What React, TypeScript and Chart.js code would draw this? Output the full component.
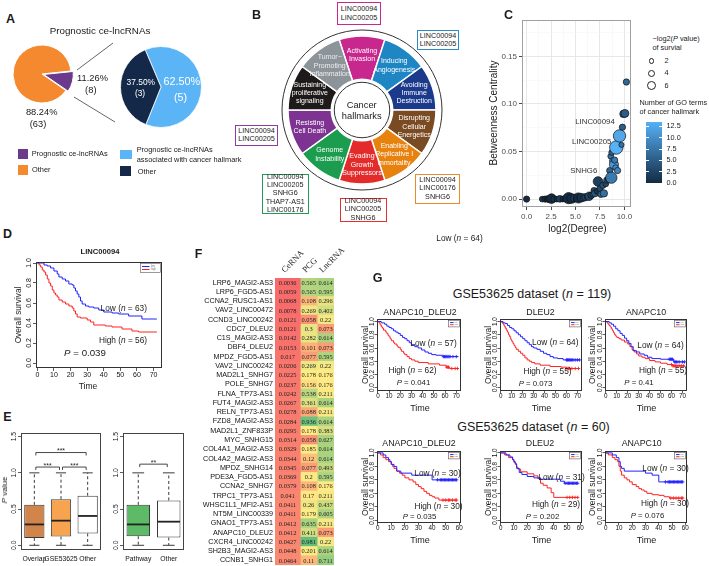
import React, { useEffect, useRef } from 'react';
import { Chart, registerables } from 'chart.js';

Chart.register(...registerables);

const FONT = '"Liberation Sans", Arial, Helvetica, sans-serif';
const SERIF = '"Liberation Serif", "Times New Roman", serif';
Chart.defaults.font.family = FONT;

/* ================= DATA ================= */
// Panel A
const pieAllLabels = ['Other', 'Prognostic ce-lncRNAs'];
const pieAllCounts = [63, 8];
const pieProgLabels = ['Prognostic ce-lncRNAs associated with cancer hallmark', 'Other'];
const pieProgCounts = [5, 3];

// Panel B
const hallmarkLines = [
  ['Activating', 'Invasion'],
  ['Inducing', 'Angiogenesis'],
  ['Avoiding', 'Immune', 'Destruction'],
  ['Disrupting', 'Cellular', 'Energetics'],
  ['Enabling', 'Replicative I', 'mmortality'],
  ['Evading', 'Growth', 'Suppressors'],
  ['Genome', 'Instability'],
  ['Resisting', 'Cell Death'],
  ['Sustaining', 'proliferative', 'signaling'],
  ['Tumor\u2212', 'Promoting', 'Inflammation'],
];
const hallmarkWeights = [1, 1, 1, 1, 1, 1, 1, 1, 1, 1];
const genesInvasion = ['LINC00094', 'LINC00205'];
const genesAngiogenesis = ['LINC00094', 'LINC00205'];
const genesCellDeath = ['LINC00094', 'LINC00205'];
const genesGenome = ['LINC00094', 'LINC00205', 'SNHG6', 'THAP7-AS1', 'LINC00176'];
const genesGrowth = ['LINC00094', 'LINC00205', 'SNHG6'];
const genesImmortality = ['LINC00094', 'LINC00176', 'SNHG6'];

// Panel C
const ccDegree = [0.0, 1.6, 1.9, 2.1, 2.3, 2.55, 2.8, 3.1, 3.4, 3.7, 4.0, 4.3, 4.6, 4.9, 5.1, 5.3, 5.6, 5.8, 6.0, 6.2, 6.4, 6.6, 6.8, 6.9, 7.0, 7.2, 7.3, 7.5, 7.6, 7.8, 7.9, 8.1, 8.2, 8.4, 8.5, 8.66, 8.6, 8.7, 8.8, 8.93, 9.0, 9.1, 9.17, 9.3, 9.5, 9.7, 9.8, 9.9, 10.05, 10.2];
const ccBetweenness = [0.0, 0.0, 0.0, 0.0003, 0.0, 0.0005, 0.0, 0.0, 0.0003, 0.0, 0.0004, 0.001, 0.0006, 0.001, 0.0005, 0.0012, 0.0015, 0.001, 0.002, 0.0025, 0.003, 0.004, 0.005, 0.009, 0.006, 0.008, 0.0185, 0.011, 0.005, 0.0145, 0.006, 0.016, 0.02, 0.021, 0.03, 0.0225, 0.045, 0.049, 0.04, 0.0363, 0.041, 0.033, 0.0542, 0.03, 0.0664, 0.057, 0.0755, 0.0895, 0.09, 0.123];
const ccGoTerms = [0, 1, 0, 1, 0, 0, 1, 0, 2, 0, 1, 0, 0, 2, 1, 0, 1, 3, 2, 1, 3, 2, 4, 3, 5, 1, 2, 3, 6, 4, 7, 3, 4, 5, 6, 8, 7, 5, 9, 11, 8, 10, 13.5, 9, 12.5, 7, 5, 6, 5, 6];
const ccNegLog2P = [3, 2.5, 3, 2.5, 4, 6, 3, 2.5, 3.5, 2.5, 3.5, 7.5, 6, 4.5, 3, 6.5, 5, 3, 4, 2.5, 5, 3, 2.5, 3, 3.5, 2.5, 6, 3, 3, 3, 4, 2.5, 3, 3.5, 3, 7.6, 2.5, 2.5, 3, 5.5, 3, 2.5, 9.5, 3, 8.5, 2, 3, 4, 4.5, 3];
const ccTicksX = [0, 2.5, 5, 7.5, 10];
const ccTicksY = [0, 0.05, 0.1, 0.15];
const ccSizeLegend = [2, 4, 6];
const ccGoLegend = [0, 2.5, 5, 7.5, 10, 12.5];
const ccGoMax = 13.5;

// Panel D (LINC00094)
const kmD_lowTime = [4, 6, 8, 10, 12, 13, 15, 17, 19, 21, 22, 23, 24, 25, 26, 27, 29, 31, 34, 37, 40, 45, 49, 55, 63];
const kmD_lowSurv = [0.98, 0.97, 0.95, 0.92, 0.89, 0.86, 0.84, 0.82, 0.79, 0.78, 0.75, 0.72, 0.69, 0.66, 0.62, 0.59, 0.57, 0.56, 0.55, 0.53, 0.51, 0.5, 0.49, 0.47, 0.44];
const kmD_highTime = [1, 2, 3, 4, 5, 6, 7, 8, 9, 10, 11, 12, 13, 15, 17, 19, 21, 22, 23, 24, 26, 30, 32, 34, 41, 45, 51, 57, 61];
const kmD_highSurv = [0.98, 0.96, 0.93, 0.91, 0.88, 0.84, 0.8, 0.77, 0.73, 0.7, 0.68, 0.66, 0.63, 0.61, 0.59, 0.57, 0.55, 0.52, 0.49, 0.46, 0.45, 0.43, 0.41, 0.38, 0.37, 0.36, 0.34, 0.32, 0.31];

// Panel E
const eLeftGroups = ['Overlap', 'GSE53625', 'Other'];
const eLeftMin = [0, 0, 0];
const eLeftQ1 = [0.102, 0.121, 0.163];
const eLeftMedian = [0.288, 0.34, 0.405];
const eLeftQ3 = [0.558, 0.637, 0.684];
const eLeftMax = [1, 1, 1];
const eLeftSig = [[0, 2, 1.28, '***'], [0, 1, 1.08, '***'], [1, 2, 1.08, '***']];
const eRightGroups = ['Pathway', 'Other'];
const eRightMin = [0, 0];
const eRightQ1 = [0.126, 0.107];
const eRightMedian = [0.288, 0.326];
const eRightQ3 = [0.558, 0.619];
const eRightMax = [1, 1];
const eRightSig = [[0, 1, 1.12, '**']];
const eTicksY = [0, 0.5, 1, 1.5];

// Panel F
const fColumns = ['CeRNA', 'PCG', 'LncRNA'];
const fPairs = ['LRP6_MAGI2-AS3', 'LRP6_FGD5-AS1', 'CCNA2_RUSC1-AS1', 'VAV2_LINC00472', 'CCND3_LINC00242', 'CDC7_DLEU2', 'C1S_MAGI2-AS3', 'DBF4_DLEU2', 'MPDZ_FGD5-AS1', 'VAV2_LINC00242', 'MAD2L1_SNHG7', 'POLE_SNHG7', 'FLNA_TP73-AS1', 'FUT4_MAGI2-AS3', 'RELN_TP73-AS1', 'FZD8_MAGI2-AS3', 'MAD2L1_ZNF833P', 'MYC_SNHG15', 'COL4A1_MAGI2-AS3', 'COL4A2_MAGI2-AS3', 'MPDZ_SNHG14', 'PDE3A_FGD5-AS1', 'CCNA2_SNHG7', 'TRPC1_TP73-AS1', 'WHSC1L1_MFI2-AS1', 'NT5M_LINC00339', 'GNAO1_TP73-AS1', 'ANAPC10_DLEU2', 'CXCR4_LINC00242', 'SH2B3_MAGI2-AS3', 'CCNB1_SNHG1'];
const fCeRNA = [0.0036, 0.0059, 0.0068, 0.0078, 0.0121, 0.0121, 0.0142, 0.0153, 0.017, 0.0206, 0.0225, 0.0237, 0.0242, 0.0267, 0.0278, 0.0284, 0.0295, 0.0314, 0.0329, 0.0344, 0.0345, 0.0369, 0.0379, 0.041, 0.0411, 0.0411, 0.0412, 0.0412, 0.0427, 0.0448, 0.0464];
const fPCG = [0.565, 0.565, 0.108, 0.269, 0.058, 0.3, 0.282, 0.101, 0.077, 0.269, 0.178, 0.156, 0.538, 0.361, 0.088, 0.936, 0.178, 0.058, 0.185, 0.12, 0.077, 0.2, 0.108, 0.17, 0.26, 0.179, 0.635, 0.411, 0.981, 0.201, 0.11];
const fLncRNA = [0.614, 0.595, 0.296, 0.402, 0.22, 0.073, 0.614, 0.073, 0.595, 0.22, 0.176, 0.176, 0.211, 0.614, 0.211, 0.614, 0.383, 0.627, 0.614, 0.614, 0.493, 0.595, 0.176, 0.211, 0.437, 0.605, 0.211, 0.073, 0.22, 0.614, 0.711];

// Panel G – GSE53625 (n = 119)
const g1a_lowTime = [3, 6, 8, 10, 12, 14, 16, 18, 20, 22, 24, 26, 28, 30, 33, 36, 39, 42, 45, 48, 52, 58];
const g1a_lowSurv = [0.98, 0.96, 0.93, 0.91, 0.89, 0.86, 0.84, 0.82, 0.79, 0.76, 0.74, 0.71, 0.68, 0.65, 0.62, 0.6, 0.57, 0.54, 0.52, 0.5, 0.49, 0.47];
const g1a_lowCens = [58.5, 59.5, 60.5, 61.5, 62.5, 63.5, 64.5, 67, 70];
const g1a_highTime = [1, 2, 3, 4, 5, 7, 8, 9, 10, 11, 12, 14, 15, 17, 18, 20, 21, 23, 24, 26, 28, 30, 33, 36, 45, 55, 61, 64];
const g1a_highSurv = [0.98, 0.95, 0.92, 0.9, 0.87, 0.84, 0.82, 0.79, 0.77, 0.74, 0.71, 0.68, 0.66, 0.63, 0.61, 0.58, 0.55, 0.52, 0.5, 0.47, 0.44, 0.42, 0.4, 0.38, 0.36, 0.34, 0.31, 0.29];
const g1a_highCens = [61.5, 62.5, 63, 66, 69, 71];

const g1b_lowTime = [2, 4, 6, 8, 10, 12, 14, 16, 18, 20, 22, 24, 26, 28, 30, 33, 36, 39, 42, 45, 48, 52, 57];
const g1b_lowSurv = [0.98, 0.97, 0.94, 0.91, 0.89, 0.86, 0.83, 0.8, 0.77, 0.74, 0.71, 0.68, 0.65, 0.62, 0.6, 0.58, 0.55, 0.52, 0.5, 0.47, 0.45, 0.44, 0.42];
const g1b_lowCens = [60, 61, 62, 63, 64, 65, 66, 68, 70, 72];
const g1b_highTime = [1, 2, 3, 4, 5, 6, 7, 8, 9, 10, 11, 12, 13, 14, 16, 18, 20, 22, 24, 26, 28, 31, 36, 45, 55, 60];
const g1b_highSurv = [0.98, 0.96, 0.93, 0.9, 0.87, 0.84, 0.8, 0.77, 0.73, 0.7, 0.67, 0.64, 0.61, 0.58, 0.55, 0.52, 0.49, 0.45, 0.42, 0.4, 0.38, 0.36, 0.34, 0.32, 0.31, 0.29];
const g1b_highCens = [60.5, 61.5, 62, 63, 65, 68, 71];

const g1c_lowTime = [3, 5, 7, 9, 11, 13, 15, 17, 19, 21, 23, 25, 28, 31, 35, 38, 42, 50, 62];
const g1c_lowSurv = [0.98, 0.96, 0.93, 0.89, 0.86, 0.82, 0.79, 0.75, 0.71, 0.67, 0.62, 0.56, 0.54, 0.51, 0.49, 0.46, 0.44, 0.43, 0.39];
const g1c_lowCens = [58, 59, 60, 61, 63, 64, 65, 67, 70, 72];
const g1c_highTime = [1, 2, 3, 4, 5, 6, 7, 8, 9, 10, 12, 14, 17, 20, 22, 24, 26, 28, 30, 33, 36, 40, 45, 50, 56, 61];
const g1c_highSurv = [0.98, 0.96, 0.94, 0.92, 0.89, 0.86, 0.83, 0.8, 0.78, 0.76, 0.74, 0.72, 0.69, 0.66, 0.62, 0.57, 0.54, 0.51, 0.48, 0.46, 0.44, 0.41, 0.39, 0.37, 0.35, 0.33];
const g1c_highCens = [60, 61.5, 62.5, 63.5, 65, 67, 69, 71];

// Panel G – GSE53625 (n = 60)
const g2a_lowTime = [4, 6, 8, 9, 10, 12, 14, 17, 25, 40];
const g2a_lowSurv = [0.97, 0.93, 0.9, 0.87, 0.83, 0.8, 0.73, 0.7, 0.67, 0.6];
const g2a_lowCens = [44, 46, 47, 48, 49, 50, 51, 52, 53, 54, 55, 56, 57, 58];
const g2a_highTime = [2, 4, 6, 8, 10, 11, 12, 14, 16, 18, 20, 23, 26, 28, 30, 32, 34, 36, 38, 40, 42, 45];
const g2a_highSurv = [0.97, 0.93, 0.9, 0.87, 0.83, 0.8, 0.77, 0.73, 0.7, 0.67, 0.63, 0.6, 0.57, 0.53, 0.5, 0.47, 0.43, 0.4, 0.37, 0.35, 0.33, 0.3];
const g2a_highCens = [48, 50, 52, 53, 55, 57, 58];

const g2b_lowTime = [4, 7, 9, 10, 11, 12, 14, 16, 20, 25, 30, 45, 48];
const g2b_lowSurv = [0.97, 0.94, 0.9, 0.87, 0.84, 0.77, 0.71, 0.68, 0.65, 0.63, 0.61, 0.58, 0.55];
const g2b_lowCens = [48.5, 50, 51, 52, 53, 54, 55, 56, 57, 58];
const g2b_highTime = [3, 6, 9, 10, 11, 12, 13, 15, 20, 25, 28, 30, 32, 35, 38, 40];
const g2b_highSurv = [0.97, 0.93, 0.9, 0.86, 0.83, 0.79, 0.76, 0.72, 0.69, 0.66, 0.62, 0.55, 0.52, 0.48, 0.41, 0.34];
const g2b_highCens = [50, 52, 54, 56, 58];

const g2c_lowTime = [5, 8, 10, 11, 12, 14, 30, 35, 40];
const g2c_lowSurv = [0.97, 0.93, 0.87, 0.8, 0.77, 0.73, 0.7, 0.67, 0.57];
const g2c_lowCens = [45, 47, 48, 49, 50, 51, 52, 53, 54, 55, 56, 57, 58];
const g2c_highTime = [2, 5, 7, 9, 10, 11, 12, 14, 16, 18, 20, 23, 25, 27, 29, 31, 35, 40, 44, 48];
const g2c_highSurv = [0.97, 0.93, 0.9, 0.87, 0.8, 0.73, 0.67, 0.63, 0.6, 0.57, 0.53, 0.5, 0.47, 0.45, 0.43, 0.4, 0.38, 0.37, 0.35, 0.33];
const g2c_highCens = [49, 51, 53, 55, 57, 58];

const survTicks = [0, 0.2, 0.4, 0.6, 0.8, 1.0];
const timeTicks72 = [0, 10, 20, 30, 40, 50, 60, 70];
const timeTicks60 = [0, 10, 20, 30, 40, 50, 60];

/* ================= HELPERS ================= */
const BLUE = '#2222ff';
const RED = '#ff2222';

const hexRgb = (h: string) => [parseInt(h.slice(1, 3), 16), parseInt(h.slice(3, 5), 16), parseInt(h.slice(5, 7), 16)];
const mix = (a: string, b: string, t: number) => {
  const A = hexRgb(a), B = hexRgb(b);
  const tt = Math.max(0, Math.min(1, t));
  return `rgb(${A.map((v, i) => Math.round(v + (B[i] - v) * tt)).join(',')})`;
};
const goColor = (v: number) => mix('#132B43', '#56B1F7', v / ccGoMax);
const sizeR = (p: number) => 1.5 + 0.55 * p;

function baseOpts(pad: any) {
  return {
    responsive: false,
    animation: false,
    events: [],
    layout: { padding: pad },
    plugins: { legend: { display: false }, tooltip: { enabled: false }, title: { display: false } },
  };
}

const framePlugin = (color: string, lw = 1) => ({
  id: 'frame',
  afterDraw(chart: any) {
    const { ctx, chartArea: a } = chart;
    ctx.save();
    ctx.strokeStyle = color;
    ctx.lineWidth = lw;
    ctx.strokeRect(Math.round(a.left) + 0.5, Math.round(a.top) + 0.5, Math.round(a.right - a.left) - 1, Math.round(a.bottom - a.top) - 1);
    ctx.restore();
  },
});

// R-style y tick labels (rotated, centred on the tick)
const rotYLabels = (vals: number[], off: number, fs: number) => ({
  id: 'rotY',
  afterDraw(chart: any) {
    const ys = chart.scales.y;
    const ctx = chart.ctx;
    const x = chart.chartArea.left - off;
    ctx.save();
    ctx.font = `${fs}px ${FONT}`;
    ctx.fillStyle = '#111';
    ctx.textAlign = 'center';
    ctx.textBaseline = 'middle';
    vals.forEach((v) => {
      ctx.save();
      ctx.translate(x, ys.getPixelForValue(v));
      ctx.rotate(-Math.PI / 2);
      ctx.fillText(v.toFixed(1), 0, 0);
      ctx.restore();
    });
    ctx.restore();
  },
});

function geom(f: number[], yw: number, xh: number, m: number) {
  return { x: f[0] - yw - m, y: f[1] - m, w: f[2] - f[0] + yw + 2 * m, h: f[3] - f[1] + xh + 2 * m, pad: m };
}

function ChartBox({ g, make }: any) {
  const ref = useRef<HTMLCanvasElement>(null);
  useEffect(() => {
    const chart = new Chart(ref.current as HTMLCanvasElement, make());
    return () => chart.destroy();
  }, []);
  return <canvas ref={ref} width={g.w} height={g.h} style={{ position: 'absolute', left: g.x, top: g.y, width: g.w, height: g.h }} />;
}

function Tx({ x, y, s = 8, a = 'c', c = '#1a1a1a', b = false, r = 0, f = FONT, children }: any) {
  const tx = a === 'c' ? '-50%' : a === 'r' ? '-100%' : '0';
  return (
    <div style={{ position: 'absolute', left: x, top: y, fontSize: s, fontFamily: f, color: c, fontWeight: b ? 700 : 400, whiteSpace: 'nowrap', lineHeight: 1, transform: `translate(${tx}, -50%)${r ? ` rotate(${r}deg)` : ''}` }}>
      {children}
    </div>
  );
}

function GeneBox({ x, y, w, h, color, lines }: any) {
  return (
    <div style={{ position: 'absolute', left: x, top: y, width: w, height: h, border: `1.5px solid ${color}`, boxSizing: 'border-box', display: 'flex', flexDirection: 'column', justifyContent: 'center', alignItems: 'center', fontSize: 7.2, lineHeight: '8.2px', fontFamily: FONT, color: '#222', background: '#fff' }}>
      {lines.map((l: string, i: number) => <div key={i}>{l}</div>)}
    </div>
  );
}

/* ================= PANEL A ================= */
const pieAllGeom = { x: 0, y: 40, w: 120, h: 90 };
function pieAllConfig() {
  return {
    type: 'pie',
    data: { labels: pieAllLabels, datasets: [{ data: pieAllCounts, backgroundColor: ['#F4892F', '#6B3A8C'], borderColor: '#fff', borderWidth: 1, offset: [0, 7] }] },
    options: { ...baseOpts({ left: 0, top: 0, right: 36, bottom: 22 }), rotation: 124.6, radius: 29 },
    plugins: [{
      id: 'connect',
      afterDraw(chart: any) {
        const ctx = chart.ctx;
        ctx.save();
        ctx.strokeStyle = '#555';
        ctx.lineWidth = 0.9;
        ctx.beginPath(); ctx.moveTo(77, 30); ctx.lineTo(113, 3); ctx.stroke();
        ctx.beginPath(); ctx.moveTo(74, 57); ctx.lineTo(115, 82); ctx.stroke();
        ctx.restore();
      },
    }],
  };
}
const pieProgGeom = { x: 110, y: 36, w: 102, h: 102 };
function pieProgConfig() {
  return {
    type: 'pie',
    data: { labels: pieProgLabels, datasets: [{ data: pieProgCounts, backgroundColor: ['#5BB4F6', '#14294A'], borderColor: '#fff', borderWidth: 0.8 }] },
    options: { ...baseOpts(0), rotation: -23, radius: 40.5 },
  };
}

/* ================= PANEL B ================= */
const hallmarkColors = ['#C8288E', '#1F86C4', '#1C3A8C', '#7A4A22', '#E8820F', '#E32B2B', '#1C9C4F', '#7E3393', '#1E1A1A', '#8C9499'];
const ringGeom = { x: 276, y: 25, w: 172, h: 170 };
function ringConfig() {
  return {
    type: 'doughnut',
    data: { labels: hallmarkLines.map((l) => l.join(' ')), datasets: [{ data: hallmarkWeights, backgroundColor: hallmarkColors, borderColor: '#fff', borderWidth: 1.5 }] },
    options: { ...baseOpts(0), rotation: -18, radius: 74, cutout: 35 },
    plugins: [{
      id: 'ring',
      afterDraw(chart: any) {
        const meta = chart.getDatasetMeta(0);
        const a0: any = meta.data[0];
        const cx = a0.x, cy = a0.y;
        const ctx = chart.ctx;
        ctx.save();
        ctx.strokeStyle = '#333';
        ctx.lineWidth = 1;
        ctx.beginPath(); ctx.arc(cx, cy, a0.outerRadius + 6, 0, Math.PI * 2); ctx.stroke();
        ctx.beginPath(); ctx.arc(cx, cy, a0.innerRadius - 3, 0, Math.PI * 2); ctx.stroke();
        ctx.font = `7px ${FONT}`;
        ctx.textAlign = 'center';
        ctx.textBaseline = 'middle';
        meta.data.forEach((arc: any, i: number) => {
          const mid = (arc.startAngle + arc.endAngle) / 2;
          const rr = (arc.innerRadius + arc.outerRadius) / 2 + 2.5;
          const tx = cx + rr * Math.cos(mid), ty = cy + rr * Math.sin(mid);
          const lines = hallmarkLines[i];
          ctx.fillStyle = i === 9 ? '#eeeeee' : '#ffffff';
          lines.forEach((ln, j) => ctx.fillText(ln, tx, ty + (j - (lines.length - 1) / 2) * 8.4));
        });
        ctx.restore();
      },
    }],
  };
}

/* ================= PANEL C ================= */
const cFrame = [522, 18, 633, 207];
const cGeom = geom(cFrame, 28, 18, 5);
function bubbleConfig() {
  const isMaj = (v: number, step: number) => Math.abs(v / step - Math.round(v / step)) < 1e-6;
  const minorX: number[] = [];
  for (let i = 0; i < ccTicksX.length; i++) { minorX.push(ccTicksX[i]); if (i < ccTicksX.length - 1) minorX.push((ccTicksX[i] + ccTicksX[i + 1]) / 2); }
  const minorY: number[] = [];
  for (let i = 0; i < ccTicksY.length; i++) { minorY.push(ccTicksY[i]); minorY.push(ccTicksY[i] + 0.025); }
  const gridColor = (step: number) => (ctx: any) => (ctx.tick && isMaj(ctx.tick.value, step) ? '#e4e4e4' : '#f2f2f2');
  const gridW = (step: number) => (ctx: any) => (ctx.tick && isMaj(ctx.tick.value, step) ? 0.9 : 0.5);
  const tickC = (step: number) => (ctx: any) => (ctx.tick && isMaj(ctx.tick.value, step) ? '#333' : 'rgba(0,0,0,0)');
  return {
    type: 'bubble',
    data: {
      datasets: [{
        data: ccDegree.map((x, i) => ({ x, y: ccBetweenness[i], r: sizeR(ccNegLog2P[i]) })),
        backgroundColor: ccGoTerms.map(goColor),
        borderColor: '#111',
        borderWidth: 0.7,
      }],
    },
    options: {
      ...baseOpts(cGeom.pad),
      scales: {
        x: {
          type: 'linear', min: -0.47, max: 10.63,
          afterBuildTicks: (s: any) => { s.ticks = minorX.map((v) => ({ value: v })); },
          ticks: { autoSkip: false, maxRotation: 0, font: { size: 8 }, color: '#4d4d4d', padding: 2, callback: (v: number) => (isMaj(v, 2.5) ? v.toFixed(1) : '') },
          grid: { color: gridColor(2.5), lineWidth: gridW(2.5), tickLength: 3, tickColor: tickC(2.5) },
          border: { display: false },
          afterFit: (s: any) => { s.height = 18; s.paddingLeft = 0; s.paddingRight = 0; },
        },
        y: {
          type: 'linear', min: -0.0083, max: 0.1877,
          afterBuildTicks: (s: any) => { s.ticks = minorY.map((v) => ({ value: v })); },
          ticks: { autoSkip: false, font: { size: 8 }, color: '#4d4d4d', padding: 2, callback: (v: number) => (isMaj(v, 0.05) ? v.toFixed(2) : '') },
          grid: { color: gridColor(0.05), lineWidth: gridW(0.05), tickLength: 3, tickColor: tickC(0.05) },
          border: { display: false },
          afterFit: (s: any) => { s.width = 28; s.paddingTop = 0; s.paddingBottom = 0; },
        },
      },
    },
    plugins: [framePlugin('#a0a0a0', 1)],
  };
}

/* ================= KM ================= */
function kmConfig(o: any) {
  const steps = (time: number[], surv: number[], end: number) => {
    const pts = [{ x: 0, y: 1 }];
    time.forEach((t, i) => pts.push({ x: t, y: surv[i] }));
    pts.push({ x: end, y: surv[surv.length - 1] });
    return pts;
  };
  const at = (time: number[], surv: number[], t: number) => { let s = 1; time.forEach((tt, i) => { if (tt <= t) s = surv[i]; }); return s; };
  const cens = (time: number[], surv: number[], cs: number[]) => cs.map((t) => ({ x: t, y: at(time, surv, t) }));
  const ds: any[] = [
    { data: steps(o.lowT, o.lowS, o.end), borderColor: BLUE, borderWidth: 1, stepped: 'before', pointRadius: 0, fill: false },
    { data: steps(o.highT, o.highS, o.end), borderColor: RED, borderWidth: 1, stepped: 'before', pointRadius: 0, fill: false },
  ];
  if (o.lowC) ds.push({ data: cens(o.lowT, o.lowS, o.lowC), showLine: false, pointStyle: 'cross', pointRadius: 1.7, pointBorderColor: BLUE, pointBorderWidth: 0.9, borderColor: BLUE });
  if (o.highC) ds.push({ data: cens(o.highT, o.highS, o.highC), showLine: false, pointStyle: 'cross', pointRadius: 1.7, pointBorderColor: RED, pointBorderWidth: 0.9, borderColor: RED });
  const font = { size: o.fs, family: FONT };
  return {
    type: 'line',
    data: { datasets: ds },
    options: {
      ...baseOpts(o.g.pad),
      scales: {
        x: {
          type: 'linear', min: o.xmin, max: o.xmax,
          afterBuildTicks: (s: any) => { s.ticks = o.xticks.map((v: number) => ({ value: v })); },
          ticks: { autoSkip: false, maxRotation: 0, minRotation: 0, font, color: '#111', padding: o.xpad, callback: (v: number) => String(v) },
          grid: { drawOnChartArea: false, tickLength: o.tl, color: '#333', lineWidth: 0.8 },
          border: { display: false },
          afterFit: (s: any) => { s.height = o.xh; s.paddingLeft = 0; s.paddingRight = 0; },
        },
        y: {
          type: 'linear', min: o.ymin, max: o.ymax,
          afterBuildTicks: (s: any) => { s.ticks = survTicks.map((v) => ({ value: v })); },
          ticks: { display: false },
          grid: { drawOnChartArea: false, tickLength: o.tl, color: '#333', lineWidth: 0.8 },
          border: { display: false },
          afterFit: (s: any) => { s.width = o.yw; s.paddingTop = 0; s.paddingBottom = 0; },
        },
      },
    },
    plugins: [
      framePlugin('#333', 1),
      rotYLabels(survTicks, o.yoff, o.fs),
      {
        id: 'kmleg',
        afterDraw(chart: any) {
          const a = chart.chartArea;
          const ctx = chart.ctx;
          const w = o.legW, h = o.legH;
          const x0 = a.right - w - 1.5, y0 = a.top + 1.5;
          ctx.save();
          ctx.fillStyle = '#fff';
          ctx.fillRect(x0, y0, w, h);
          ctx.strokeStyle = '#555';
          ctx.lineWidth = 0.6;
          ctx.strokeRect(x0, y0, w, h);
          [BLUE, RED].forEach((c, i) => {
            const yy = y0 + (h * (i + 1)) / 3;
            ctx.strokeStyle = c;
            ctx.lineWidth = 1;
            ctx.beginPath(); ctx.moveTo(x0 + 1.5, yy); ctx.lineTo(x0 + w * 0.45, yy); ctx.stroke();
            ctx.fillStyle = '#777';
            ctx.font = `${Math.max(2, h * 0.3)}px ${FONT}`;
            ctx.textBaseline = 'middle';
            ctx.fillText(i === 0 ? 'low' : 'high', x0 + w * 0.52, yy);
          });
          ctx.restore();
        },
      },
    ],
  };
}

const dGeom = geom([36, 262, 162, 368], 14, 14, 5);
const dOpts = { g: dGeom, lowT: kmD_lowTime, lowS: kmD_lowSurv, highT: kmD_highTime, highS: kmD_highSurv, end: 72, xmin: -0.8, xmax: 75.1, ymin: -0.05, ymax: 1.01, xticks: timeTicks72, fs: 7, tl: 3, xpad: 0, yoff: 6.5, yw: 14, xh: 14, legW: 20, legH: 9 };

const gCols = [[377, 462], [500, 583], [605, 688]];
const gRow1 = [318, 391];
const gRow2 = [450, 523];
const gCommon = { fs: 6.3, tl: 2.5, xpad: -0.8, yoff: 5, yw: 11, xh: 12, legW: 11, legH: 6.5 };
const gRow1Opts = { end: 72, xmin: -0.8, xmax: 74.3, ymin: -0.05, ymax: 1.04, xticks: timeTicks72 };
const gRow2Opts = { end: 58, xmin: -0.5, xmax: 61.3, ymin: -0.04, ymax: 1.03, xticks: timeTicks60 };
const gPlots = [
  { col: 0, row: 1, lowT: g1a_lowTime, lowS: g1a_lowSurv, lowC: g1a_lowCens, highT: g1a_highTime, highS: g1a_highSurv, highC: g1a_highCens },
  { col: 1, row: 1, lowT: g1b_lowTime, lowS: g1b_lowSurv, lowC: g1b_lowCens, highT: g1b_highTime, highS: g1b_highSurv, highC: g1b_highCens },
  { col: 2, row: 1, lowT: g1c_lowTime, lowS: g1c_lowSurv, lowC: g1c_lowCens, highT: g1c_highTime, highS: g1c_highSurv, highC: g1c_highCens },
  { col: 0, row: 2, lowT: g2a_lowTime, lowS: g2a_lowSurv, lowC: g2a_lowCens, highT: g2a_highTime, highS: g2a_highSurv, highC: g2a_highCens },
  { col: 1, row: 2, lowT: g2b_lowTime, lowS: g2b_lowSurv, lowC: g2b_lowCens, highT: g2b_highTime, highS: g2b_highSurv, highC: g2b_highCens },
  { col: 2, row: 2, lowT: g2c_lowTime, lowS: g2c_lowSurv, lowC: g2c_lowCens, highT: g2c_highTime, highS: g2c_highSurv, highC: g2c_highCens },
].map((p) => {
  const rowY = p.row === 1 ? gRow1 : gRow2;
  const g = geom([gCols[p.col][0], rowY[0], gCols[p.col][1], rowY[1]], 11, 12, 4);
  return { ...gCommon, ...(p.row === 1 ? gRow1Opts : gRow2Opts), ...p, g };
});

/* ================= PANEL E ================= */
function boxConfig(b: any) {
  const data = b.q1.map((q: number, i: number) => [q, b.q3[i]]);
  return {
    type: 'bar',
    data: { labels: b.groups, datasets: [{ data, backgroundColor: b.colors, borderColor: '#3a3a3a', borderWidth: 1, borderSkipped: false, barPercentage: b.barPct, categoryPercentage: 1 }] },
    options: {
      ...baseOpts(b.g.pad),
      scales: {
        x: {
          grid: { display: false, drawTicks: false }, border: { display: false },
          ticks: { autoSkip: false, maxRotation: 0, font: { size: 6.8 }, color: '#111', padding: 5 },
          afterFit: (s: any) => { s.height = 16; s.paddingLeft = 0; s.paddingRight = 0; },
        },
        y: {
          type: 'linear', min: -0.065, max: 1.55,
          afterBuildTicks: (s: any) => { s.ticks = eTicksY.map((v) => ({ value: v })); },
          ticks: { display: false },
          grid: { drawOnChartArea: false, tickLength: 3, color: '#333', lineWidth: 0.8 },
          border: { display: false },
          afterFit: (s: any) => { s.width = 13; s.paddingTop = 0; s.paddingBottom = 0; },
        },
      },
    },
    plugins: [
      framePlugin('#444', 1),
      rotYLabels(eTicksY, 7, 6.8),
      {
        id: 'boxparts',
        afterDatasetsDraw(chart: any) {
          const meta = chart.getDatasetMeta(0);
          const ys = chart.scales.y;
          const ctx = chart.ctx;
          const ln = (x1: number, y1: number, x2: number, y2: number) => { ctx.beginPath(); ctx.moveTo(x1, y1); ctx.lineTo(x2, y2); ctx.stroke(); };
          ctx.save();
          meta.data.forEach((el: any, i: number) => {
            const x = el.x, hw = el.width / 2;
            ctx.strokeStyle = '#3a3a3a';
            ctx.lineWidth = 1;
            ctx.setLineDash([3, 2.5]);
            ln(x, ys.getPixelForValue(b.q3[i]), x, ys.getPixelForValue(b.max[i]));
            ln(x, ys.getPixelForValue(b.q1[i]), x, ys.getPixelForValue(b.min[i]));
            ctx.setLineDash([]);
            ln(x - hw / 2, ys.getPixelForValue(b.max[i]), x + hw / 2, ys.getPixelForValue(b.max[i]));
            ln(x - hw / 2, ys.getPixelForValue(b.min[i]), x + hw / 2, ys.getPixelForValue(b.min[i]));
            ctx.lineWidth = 1.8;
            ctx.strokeStyle = '#222';
            ln(x - hw + 0.5, ys.getPixelForValue(b.median[i]), x + hw - 0.5, ys.getPixelForValue(b.median[i]));
          });
          ctx.strokeStyle = '#333';
          ctx.lineWidth = 0.9;
          ctx.fillStyle = '#222';
          ctx.font = `7px ${FONT}`;
          ctx.textAlign = 'center';
          ctx.textBaseline = 'alphabetic';
          b.sig.forEach((s: any) => {
            const xa = meta.data[s[0]].x + 1.5, xb = meta.data[s[1]].x - 1.5;
            const yy = ys.getPixelForValue(s[2]);
            const yd = ys.getPixelForValue(s[2] - 0.04);
            ctx.beginPath(); ctx.moveTo(xa, yd); ctx.lineTo(xa, yy); ctx.lineTo(xb, yy); ctx.lineTo(xb, yd); ctx.stroke();
            ctx.fillText(s[3], (xa + xb) / 2, yy + 0.5);
          });
          ctx.restore();
        },
      },
    ],
  };
}
const eLeftGeom = geom([21, 433, 101, 550], 13, 16, 5);
const eRightGeom = geom([123, 433, 184, 550], 13, 16, 5);
const eLeft = { g: eLeftGeom, groups: eLeftGroups, min: eLeftMin, q1: eLeftQ1, median: eLeftMedian, q3: eLeftQ3, max: eLeftMax, sig: eLeftSig, colors: ['#D2854A', '#F7A34F', '#FFFFFF'], barPct: 0.76 };
const eRight = { g: eRightGeom, groups: eRightGroups, min: eRightMin, q1: eRightQ1, median: eRightMedian, q3: eRightQ3, max: eRightMax, sig: eRightSig, colors: ['#5DBA66', '#FFFFFF'], barPct: 0.77 };

/* ================= PANEL F ================= */
const heatColumnWidths = [1.5, 1, 1];
const heatGeom = { x: 196, y: 240, w: 160, h: 326 };
function heatConfig() {
  const cols = [fCeRNA, fPCG, fLncRNA];
  const all = [...fCeRNA, ...fPCG, ...fLncRNA].sort((a, b) => a - b);
  const lo = all[0], hi = all[all.length - 1];
  const pos = (all.length - 1) * 0.5;
  const mid = all[Math.floor(pos)] + (all[Math.ceil(pos)] - all[Math.floor(pos)]) * (pos - Math.floor(pos));
  const color = (v: number) => (v <= mid ? mix('#F8696B', '#FFEB84', (v - lo) / (mid - lo)) : mix('#FFEB84', '#63BE7B', (v - mid) / (hi - mid)));
  return {
    type: 'bar',
    data: {
      labels: fPairs,
      datasets: cols.map((vals, ci) => ({ label: fColumns[ci], data: fPairs.map(() => heatColumnWidths[ci]), backgroundColor: vals.map(color), borderWidth: 0, barPercentage: 1, categoryPercentage: 1 })),
    },
    options: {
      ...baseOpts({ left: 4, top: 38, right: 22, bottom: 1 }),
      indexAxis: 'y',
      scales: {
        x: { stacked: true, display: false, min: 0, max: 3.5 },
        y: {
          stacked: true,
          grid: { display: false, drawTicks: false }, border: { display: false },
          ticks: { autoSkip: false, font: { size: 7.2 }, color: '#111', padding: 2 },
          afterFit: (s: any) => { s.width = 75; s.paddingTop = 0; s.paddingBottom = 0; },
        },
      },
    },
    plugins: [{
      id: 'heattext',
      afterDatasetsDraw(chart: any) {
        const ctx = chart.ctx;
        ctx.save();
        ctx.font = `6.4px ${SERIF}`;
        ctx.fillStyle = '#222';
        ctx.textAlign = 'center';
        ctx.textBaseline = 'middle';
        cols.forEach((vals, di) => {
          chart.getDatasetMeta(di).data.forEach((el: any, i: number) => {
            ctx.fillText(String(vals[i]), (el.x + el.base) / 2, el.y + 0.5);
          });
        });
        const xs = chart.scales.x;
        let acc = 0;
        ctx.font = `8.6px ${SERIF}`;
        ctx.textAlign = 'left';
        ctx.textBaseline = 'alphabetic';
        fColumns.forEach((name, ci) => {
          const c = acc + heatColumnWidths[ci] / 2;
          acc += heatColumnWidths[ci];
          const px = xs.getPixelForValue(c);
          ctx.save();
          ctx.translate(px - 3, chart.chartArea.top - 5);
          ctx.rotate(-Math.PI / 4);
          ctx.fillText(name, 0, 0);
          ctx.restore();
        });
        ctx.restore();
      },
    }],
  };
}

/* ================= APP ================= */
export default function App() {
  const lbl = (t: string, x: number, y: number) => <Tx x={x} y={y} s={12.5} b>{t}</Tx>;
  const n = <i>n</i>;
  const P = <i>P</i>;
  const gTitleX = [[420, 540.5, 646], [419, 540, 641.7]];
  const gTitles = ['ANAPC10_DLEU2', 'DLEU2', 'ANAPC10'];
  const gYLab = [365, 488, 592];
  const gTimeX = [420, 541.5, 646.5];
  return (
    <div style={{ position: 'fixed', left: 0, top: 0, width: 709, height: 566, background: '#fff', overflow: 'hidden', fontFamily: FONT }}>
      {/* charts */}
      <ChartBox g={pieAllGeom} make={pieAllConfig} />
      <ChartBox g={pieProgGeom} make={pieProgConfig} />
      <ChartBox g={ringGeom} make={ringConfig} />
      <ChartBox g={cGeom} make={bubbleConfig} />
      <ChartBox g={dGeom} make={() => kmConfig(dOpts)} />
      <ChartBox g={eLeftGeom} make={() => boxConfig(eLeft)} />
      <ChartBox g={eRightGeom} make={() => boxConfig(eRight)} />
      <ChartBox g={heatGeom} make={heatConfig} />
      {gPlots.map((p, i) => <ChartBox key={i} g={p.g} make={() => kmConfig(p)} />)}

      {/* panel letters */}
      {lbl('A', 10.5, 19)}
      {lbl('B', 256.5, 14.5)}
      {lbl('C', 508.5, 14.5)}
      {lbl('D', 7.5, 234)}
      {lbl('E', 7.5, 417)}
      {lbl('F', 198.5, 254)}
      {lbl('G', 377.5, 278)}

      {/* Panel A texts */}
      <Tx x={100} y={31} s={9.8}>Prognostic ce-lncRNAs</Tx>
      <Tx x={92.5} y={79.3} s={9.3}>11.26%</Tx>
      <Tx x={90.8} y={90.7} s={9.3}>(8)</Tx>
      <Tx x={41.7} y={113.3} s={9.3}>88.24%</Tx>
      <Tx x={38} y={125} s={9.3}>(63)</Tx>
      <Tx x={140.8} y={81.7} s={8.4} c="#fff">37.50%</Tx>
      <Tx x={140} y={93.3} s={8.4} c="#fff">(3)</Tx>
      <Tx x={181.7} y={81} s={10.8} c="#fff">62.50%</Tx>
      <Tx x={180.5} y={96.7} s={10.8} c="#fff">(5)</Tx>
      <div style={{ position: 'absolute', left: 18.3, top: 149.3, width: 10, height: 10, background: '#6B3A8C' }} />
      <div style={{ position: 'absolute', left: 18.3, top: 165, width: 10, height: 10, background: '#F4892F' }} />
      <div style={{ position: 'absolute', left: 120, top: 150, width: 11.7, height: 9.3, background: '#5BB4F6' }} />
      <div style={{ position: 'absolute', left: 120, top: 166, width: 11, height: 9.7, background: '#14294A' }} />
      <Tx x={31.7} y={154.3} s={7.4} a="l">Prognostic ce-lncRNAs</Tx>
      <Tx x={32} y={170} s={7.4} a="l">Other</Tx>
      <Tx x={136.7} y={150} s={7.4} a="l">Prognostic ce-lncRNAs</Tx>
      <Tx x={136.7} y={159.5} s={7.4} a="l">associated with cancer hallmark</Tx>
      <Tx x={137.7} y={171.7} s={7.4} a="l">Other</Tx>

      {/* Panel B */}
      <Tx x={361.7} y={106} s={9.3}>Cancer</Tx>
      <Tx x={361.7} y={117.3} s={9.3}>hallmarks</Tx>
      <GeneBox x={337} y={2} w={44} h={23} color="#C8288E" lines={genesInvasion} />
      <GeneBox x={417} y={29.5} w={42} h={20.5} color="#2A8AC8" lines={genesAngiogenesis} />
      <GeneBox x={235} y={125} w={43} h={20.5} color="#8A3D9E" lines={genesCellDeath} />
      <GeneBox x={262} y={173.5} w={46.5} h={40} color="#1E9C52" lines={genesGenome} />
      <GeneBox x={339.5} y={197.5} w={47} h={24} color="#E53030" lines={genesGrowth} />
      <GeneBox x={415} y={173.5} w={45} h={30} color="#EB8A2A" lines={genesImmortality} />

      {/* Panel C */}
      <Tx x={493.5} y={113} s={10} r={-90}>Betweenness Centrality</Tx>
      <Tx x={577.5} y={228.5} s={10}>log2(Degree)</Tx>
      <Tx x={595} y={121.7} s={7.8} c="#333">LINC00094</Tx>
      <Tx x={591.7} y={141.7} s={7.8} c="#333">LINC00205</Tx>
      <Tx x={583.8} y={171} s={7.8} c="#333">SNHG6</Tx>
      <Tx x={652.5} y={39.3} s={7.3} a="l">{'\u2212log2('}{P}{' value)'}</Tx>
      <Tx x={652.5} y={48} s={7.3} a="l">of survial</Tx>
      {ccSizeLegend.map((v, i) => {
        const r = sizeR(v);
        const cy = [61, 73.3, 85.7][i];
        return (
          <React.Fragment key={i}>
            <div style={{ position: 'absolute', left: 651.7 - r, top: cy - r, width: 2 * r, height: 2 * r, borderRadius: '50%', border: '1px solid #222', boxSizing: 'border-box', background: '#fff' }} />
            <Tx x={664.5} y={cy} s={7.3} a="l">{String(v)}</Tx>
          </React.Fragment>
        );
      })}
      <Tx x={639.5} y={103.3} s={7.3} a="l">Number of GO terms</Tx>
      <Tx x={639.5} y={112} s={7.3} a="l">of cancer hallmark</Tx>
      <div style={{ position: 'absolute', left: 646, top: 121.7, width: 16, height: 61.6, background: 'linear-gradient(to top, #132B43, #56B1F7)' }} />
      {ccGoLegend.map((v, i) => {
        const y = 183.3 - (v / ccGoMax) * 61.6;
        return (
          <React.Fragment key={i}>
            <div style={{ position: 'absolute', left: 646, top: y - 0.5, width: 3, height: 1, background: '#fff' }} />
            <div style={{ position: 'absolute', left: 659, top: y - 0.5, width: 3, height: 1, background: '#fff' }} />
            <Tx x={666.5} y={y} s={7.3} a="l">{v.toFixed(1)}</Tx>
          </React.Fragment>
        );
      })}

      {/* stray label */}
      <Tx x={459.5} y={238} s={8.3}>Low ({n} = 64)</Tx>

      {/* Panel D */}
      <Tx x={100} y={252} s={7.6} b>LINC00094</Tx>
      <Tx x={123.8} y={307.5} s={8.3}>Low ({n} = 63)</Tx>
      <Tx x={123} y={339.7} s={8.3}>High ({n} = 56)</Tx>
      <Tx x={85} y={352.7} s={9.7}>{P} = 0.039</Tx>
      <Tx x={18.3} y={315} s={8.3} r={-90}>Overall survival</Tx>
      <Tx x={88} y={386} s={8.5}>Time</Tx>

      {/* Panel E */}
      <Tx x={4.5} y={490} s={8} r={-90}>{P} value</Tx>

      {/* Panel G */}
      <Tx x={532} y={294} s={12.5}>GSE53625 dataset ({n} = 119)</Tx>
      <Tx x={533.5} y={426.5} s={12.5}>GSE53625 dataset ({n} = 60)</Tx>
      {[0, 1].map((row) => gTitles.map((t, c) => (
        <React.Fragment key={`${row}-${c}`}>
          <Tx x={gTitleX[row][c]} y={row === 0 ? 311.5 : 443.3} s={8.8}>{t}</Tx>
          <Tx x={gYLab[c]} y={row === 0 ? 354.5 : 486.5} s={8.5} r={-90}>Overall survival</Tx>
          <Tx x={gTimeX[c]} y={row === 0 ? 408 : 540} s={9}>Time</Tx>
        </React.Fragment>
      )))}
      <Tx x={433.5} y={343.3} s={8.3}>Low ({n} = 57)</Tx>
      <Tx x={412.5} y={370} s={8.3}>High ({n} = 62)</Tx>
      <Tx x={413.5} y={383.3} s={7.8}>{P} = 0.041</Tx>
      <Tx x={555.3} y={341.7} s={8.3}>Low ({n} = 64)</Tx>
      <Tx x={547.5} y={370.7} s={8.3}>High ({n} = 55)</Tx>
      <Tx x={535.5} y={384} s={7.8}>{P} = 0.073</Tx>
      <Tx x={660.5} y={345} s={8.3}>Low ({n} = 64)</Tx>
      <Tx x={663} y={370} s={8.3}>High ({n} = 55)</Tx>
      <Tx x={639} y={383.3} s={7.8}>{P} = 0.41</Tx>
      <Tx x={437.5} y={473.3} s={8.3}>Low ({n} = 30)</Tx>
      <Tx x={438.5} y={506} s={8.3}>High ({n} = 30)</Tx>
      <Tx x={419.5} y={516.7} s={7.8}>{P} = 0.035</Tx>
      <Tx x={561.5} y={476.7} s={8.3}>Low ({n} = 31)</Tx>
      <Tx x={556} y={504.3} s={8.3}>High ({n} = 29)</Tx>
      <Tx x={542.5} y={517.3} s={7.8}>{P} = 0.202</Tx>
      <Tx x={665.5} y={468} s={8.3}>Low ({n} = 30)</Tx>
      <Tx x={665} y={503} s={8.3}>High ({n} = 30)</Tx>
      <Tx x={647.5} y={516} s={7.8}>{P} = 0.076</Tx>
    </div>
  );
}
